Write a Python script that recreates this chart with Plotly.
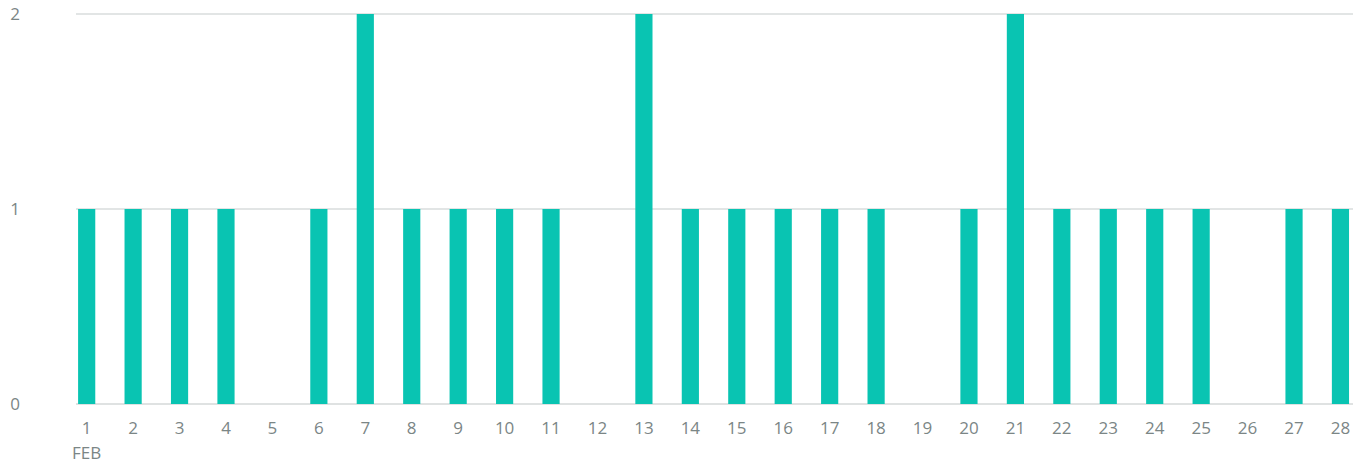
import plotly.graph_objects as go

days = list(range(1, 29))
counts = [1, 1, 1, 1, 0, 1, 2, 1, 1, 1, 1, 0, 2, 1, 1, 1, 1, 1, 0, 1, 2, 1, 1, 1, 1, 0, 1, 1]
tick_labels = [str(d) for d in days]
month_label = "FEB"
y_ticks = [0, 1, 2]

font_color = "#7b8686"
font_family = "Open Sans, sans-serif"
fig = go.Figure(go.Bar(x=days, y=counts, marker=dict(color="#09c4b2", line=dict(width=0)), width=0.37))

fig.update_layout(
    width=1369, height=464,
    margin=dict(l=76, r=16, t=12, b=60, autoexpand=False),
    plot_bgcolor="white", paper_bgcolor="white",
    showlegend=False,
    font=dict(family=font_family, size=17, color=font_color),
    xaxis=dict(range=[0.77, 28.27], tickmode="array", tickvals=days, ticktext=tick_labels,
               showgrid=False, zeroline=False, showline=False, ticks="", ticklabelstandoff=12,
               automargin=False, ticklabeloverflow="allow", tickfont=dict(size=17, color=font_color)),
    yaxis=dict(range=[0, 2.01], tickmode="array", tickvals=y_ticks, ticktext=[str(v) for v in y_ticks],
               showgrid=True, gridcolor="#e2e5e5", gridwidth=2, zeroline=True, zerolinecolor="#dfe2e2",
               zerolinewidth=2, showline=False, ticks="", ticklabelstandoff=55,
               automargin=False, ticklabeloverflow="allow", tickfont=dict(size=17, color=font_color)),
    annotations=[dict(x=1, y=0, xref="x", yref="paper", text=month_label, showarrow=False,
                      xanchor="center", yanchor="middle", yshift=-48,
                      font=dict(size=17, color=font_color))],
)

fig.write_html("out.html", config={"displayModeBar": False},
               post_script="document.body.style.margin='0';")
